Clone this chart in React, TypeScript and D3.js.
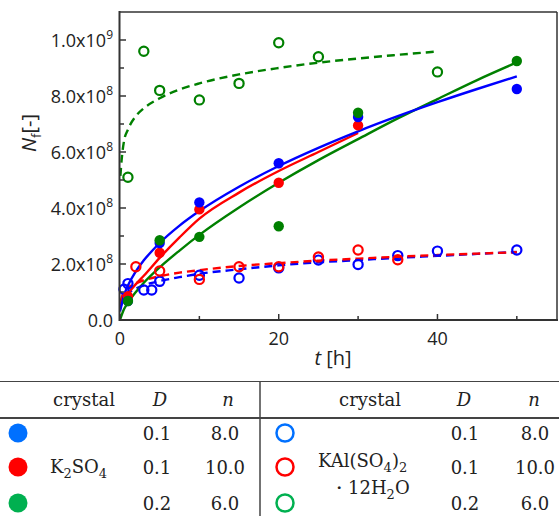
import React from "react";
import * as d3 from "d3";

// ---------- data (values in units of 1e9) ----------
const kTime = [1, 5, 10, 20, 30, 50];
const kBlue = [0.068, 0.275, 0.42, 0.56, 0.725, 0.825];
const kRedTime = [1, 5, 10, 20, 30];
const kRed = [0.085, 0.24, 0.395, 0.49, 0.695];
const kGreen = [0.068, 0.285, 0.297, 0.335, 0.74, 0.925];

const aBlueTime = [0.5, 1, 3, 4, 5, 10, 15, 20, 25, 30, 35, 40, 50];
const aBlue = [0.11, 0.13, 0.107, 0.107, 0.138, 0.16, 0.15, 0.186, 0.214, 0.198, 0.23, 0.246, 0.25];
const aRedTime = [2, 5, 10, 15, 20, 25, 30, 35];
const aRed = [0.19, 0.175, 0.145, 0.19, 0.19, 0.225, 0.25, 0.215];
const aGreenTime = [1, 3, 5, 10, 15, 20, 25, 40];
const aGreen = [0.51, 0.96, 0.82, 0.786, 0.845, 0.99, 0.94, 0.886];

// fitted curves
const fitT = [0, 0.5, 1, 2, 3, 5, 7.5, 10, 15, 20, 25, 30, 35, 40, 45, 50];
const fitBlueSolid = [0.03, 0.087, 0.123, 0.174, 0.213, 0.275, 0.337, 0.389, 0.476, 0.55, 0.615, 0.674, 0.728, 0.778, 0.825, 0.87];
const fitRedSolidT = [0, 0.5, 1, 2, 3, 5, 7.5, 10, 15, 20, 25, 30];
const fitRedSolid = [0.055, 0.077, 0.095, 0.128, 0.158, 0.222, 0.295, 0.362, 0.455, 0.532, 0.6, 0.668];
const fitGreenSolid = [0, 0.038, 0.062, 0.1, 0.133, 0.188, 0.248, 0.304, 0.402, 0.49, 0.571, 0.646, 0.72, 0.789, 0.857, 0.92];
const fitDashT = [0.05, 0.5, 1, 2, 3, 5, 7.5, 10, 15, 20, 25, 30, 35, 40, 45, 50];
const fitRedDash = [0.065, 0.101, 0.115, 0.131, 0.142, 0.156, 0.169, 0.178, 0.193, 0.203, 0.212, 0.219, 0.226, 0.232, 0.237, 0.242];
const fitBlueDash = [0.046, 0.08, 0.095, 0.112, 0.124, 0.139, 0.153, 0.165, 0.181, 0.195, 0.206, 0.214, 0.222, 0.229, 0.236, 0.243];
const fitGreenDashT = [0.05, 0.2, 0.5, 1, 2, 3, 5, 7.5, 10, 15, 20, 25, 30, 35, 40];
const fitGreenDash = [0.515, 0.57, 0.638, 0.68, 0.728, 0.756, 0.792, 0.823, 0.845, 0.877, 0.9, 0.919, 0.934, 0.947, 0.959];

const yTicks = [0, 0.2, 0.4, 0.6, 0.8, 1.0];
const yTickMant = ["0.0", "2.0x10", "4.0x10", "6.0x10", "8.0x10", "1.0x10"];
const yTickExp = ["", "8", "8", "8", "8", "9"];
const yMinor = [0.1, 0.3, 0.5, 0.7, 0.9];
const xTicks = [0, 20, 40];
const xMinor = [10, 30, 50];

const tableD = ["0.1", "0.1", "0.2"];
const tableN = ["8.0", "10.0", "6.0"];

const C = { blue: "#0000ff", red: "#ff0000", green: "#008000" };
const TC = { blue: "#0070ff", red: "#ff0000", green: "#00b050" };

export default function App() {
  const W = 559, H = 516;
  const x = d3.scaleLinear().domain([0, 55]).range([120, 556.5]);
  const y = d3.scaleLinear().domain([0, 1.1]).range([320, 12]);
  const line = (ts: number[], vs: number[]) =>
    d3.line<number>().x((_, i) => x(ts[i])).y((v) => y(v)).curve(d3.curveMonotoneX)(vs) || "";

  const axisColor = "#333";
  const tickFont = "'Open Sans', sans-serif";
  const serif = "'DejaVu Serif', serif";

  const filled = (ts: number[], vs: number[], col: string, key: string) =>
    vs.map((v, i) => <circle key={key + i} cx={x(ts[i])} cy={y(v)} r={5.2} fill={col} />);
  const open = (ts: number[], vs: number[], col: string, key: string) =>
    vs.map((v, i) => (
      <circle key={key + i} cx={x(ts[i])} cy={y(v)} r={4.6} fill="none" stroke={col} strokeWidth={2.2} />
    ));

  const rowsY = [433, 467, 503];
  const tColors = [TC.blue, TC.red, TC.green];

  return (
    <svg width={W} height={H} style={{ position: "absolute", left: 0, top: 0, background: "#fff" }}>
      <rect x={0} y={0} width={W} height={H} fill="#fff" />
      {/* fit lines */}
      <g fill="none" strokeWidth={2.4}>
        <path d={line(fitDashT, fitBlueDash)} stroke={C.blue} strokeDasharray="8,5" />
        <path d={line(fitDashT, fitRedDash)} stroke={C.red} strokeDasharray="8,5" />
        <path d={line(fitGreenDashT, fitGreenDash)} stroke={C.green} strokeDasharray="8,5" />
        <path d={line(fitT, fitGreenSolid)} stroke={C.green} />
        <path d={line(fitRedSolidT, fitRedSolid)} stroke={C.red} />
        <path d={line(fitT, fitBlueSolid)} stroke={C.blue} />
      </g>
      {/* points */}
      {open(aBlueTime, aBlue, C.blue, "ob")}
      {open(aRedTime, aRed, C.red, "or")}
      {open(aGreenTime, aGreen, C.green, "og")}
      {filled(kRedTime, kRed, C.red, "fr")}
      {filled(kTime, kBlue, C.blue, "fb")}
      {filled(kTime, kGreen, C.green, "fg")}

      {/* frame */}
      <g stroke={axisColor} fill="none">
        <line x1={119.5} y1={12} x2={557} y2={12} strokeWidth={1.5} />
        <line x1={557} y1={12} x2={557} y2={320} strokeWidth={1.5} />
        <line x1={119.5} y1={11} x2={119.5} y2={321} strokeWidth={2} />
        <line x1={119} y1={320} x2={558} y2={320} strokeWidth={2} />
        {yTicks.map((t) => (
          <line key={"yt" + t} x1={120} x2={126} y1={y(t)} y2={y(t)} strokeWidth={1.5} />
        ))}
        {yMinor.map((t) => (
          <line key={"ym" + t} x1={120} x2={124} y1={y(t)} y2={y(t)} strokeWidth={1.5} />
        ))}
        {xTicks.map((t) => (
          <line key={"xt" + t} x1={x(t)} x2={x(t)} y1={320} y2={314} strokeWidth={1.5} />
        ))}
        {xMinor.map((t) => (
          <line key={"xm" + t} x1={x(t)} x2={x(t)} y1={320} y2={316} strokeWidth={1.5} />
        ))}
      </g>
      {/* y tick labels */}
      {yTicks.map((t, i) => (
        <text key={"yl" + t} x={113} y={y(t) + 6.5} textAnchor="end" fontFamily={tickFont} fontSize={18} fill="#222">
          {yTickMant[i]}
          {yTickExp[i] && (
            <tspan fontSize={12} dy={-8}>
              {yTickExp[i]}
            </tspan>
          )}
        </text>
      ))}
      {xTicks.map((t) => (
        <text key={"xl" + t} x={x(t)} y={345} textAnchor="middle" fontFamily={tickFont} fontSize={18} fill="#222">
          {t}
        </text>
      ))}
      {/* axis titles */}
      <text x={333} y={365} textAnchor="middle" fontFamily={tickFont} fontSize={20} fill="#222">
        <tspan fontStyle="italic">t</tspan> [h]
      </text>
      <text transform="translate(36,133) rotate(-90)" textAnchor="middle" fontFamily={tickFont} fontSize={20} fill="#222">
        <tspan fontStyle="italic">N</tspan>
        <tspan fontSize={13} dy={5}>f</tspan>
        <tspan dy={-5}>[-]</tspan>
      </text>

      {/* table */}
      <g stroke="#444">
        <line x1={0} x2={W} y1={381.5} y2={381.5} strokeWidth={1.2} />
        <line x1={0} x2={W} y1={418} y2={418} strokeWidth={2} />
        <line x1={260} x2={260} y1={381} y2={H} strokeWidth={1.5} />
      </g>
      <g fontFamily={serif} fontSize={18} fill="#222">
        <text x={84} y={406} textAnchor="middle">crystal</text>
        <text x={160} y={406} textAnchor="middle" fontStyle="italic">D</text>
        <text x={228} y={406} textAnchor="middle" fontStyle="italic">n</text>
        <text x={370} y={406} textAnchor="middle">crystal</text>
        <text x={464} y={406} textAnchor="middle" fontStyle="italic">D</text>
        <text x={534} y={406} textAnchor="middle" fontStyle="italic">n</text>
        {rowsY.map((ry, i) => (
          <g key={"row" + i}>
            <circle cx={18} cy={ry} r={9.5} fill={tColors[i]} />
            <circle cx={285} cy={ry} r={8.5} fill="none" stroke={tColors[i]} strokeWidth={2.5} />
            <text x={157} y={ry + 6.5} textAnchor="middle">{tableD[i]}</text>
            <text x={225} y={ry + 6.5} textAnchor="middle">{tableN[i]}</text>
            <text x={465} y={ry + 6.5} textAnchor="middle">{tableD[i]}</text>
            <text x={535} y={ry + 6.5} textAnchor="middle">{tableN[i]}</text>
          </g>
        ))}
        <text x={50} y={473}>
          K<tspan fontSize={13} dy={5}>2</tspan>
          <tspan dy={-5}>SO</tspan>
          <tspan fontSize={13} dy={5}>4</tspan>
        </text>
        <text x={318} y={467}>
          KAl(SO<tspan fontSize={13} dy={5}>4</tspan>
          <tspan dy={-5}>)</tspan>
          <tspan fontSize={13} dy={5}>2</tspan>
        </text>
        <text x={330} y={494}>
          ・12H<tspan fontSize={13} dy={5}>2</tspan>
          <tspan dy={-5}>O</tspan>
        </text>
      </g>
    </svg>
  );
}
